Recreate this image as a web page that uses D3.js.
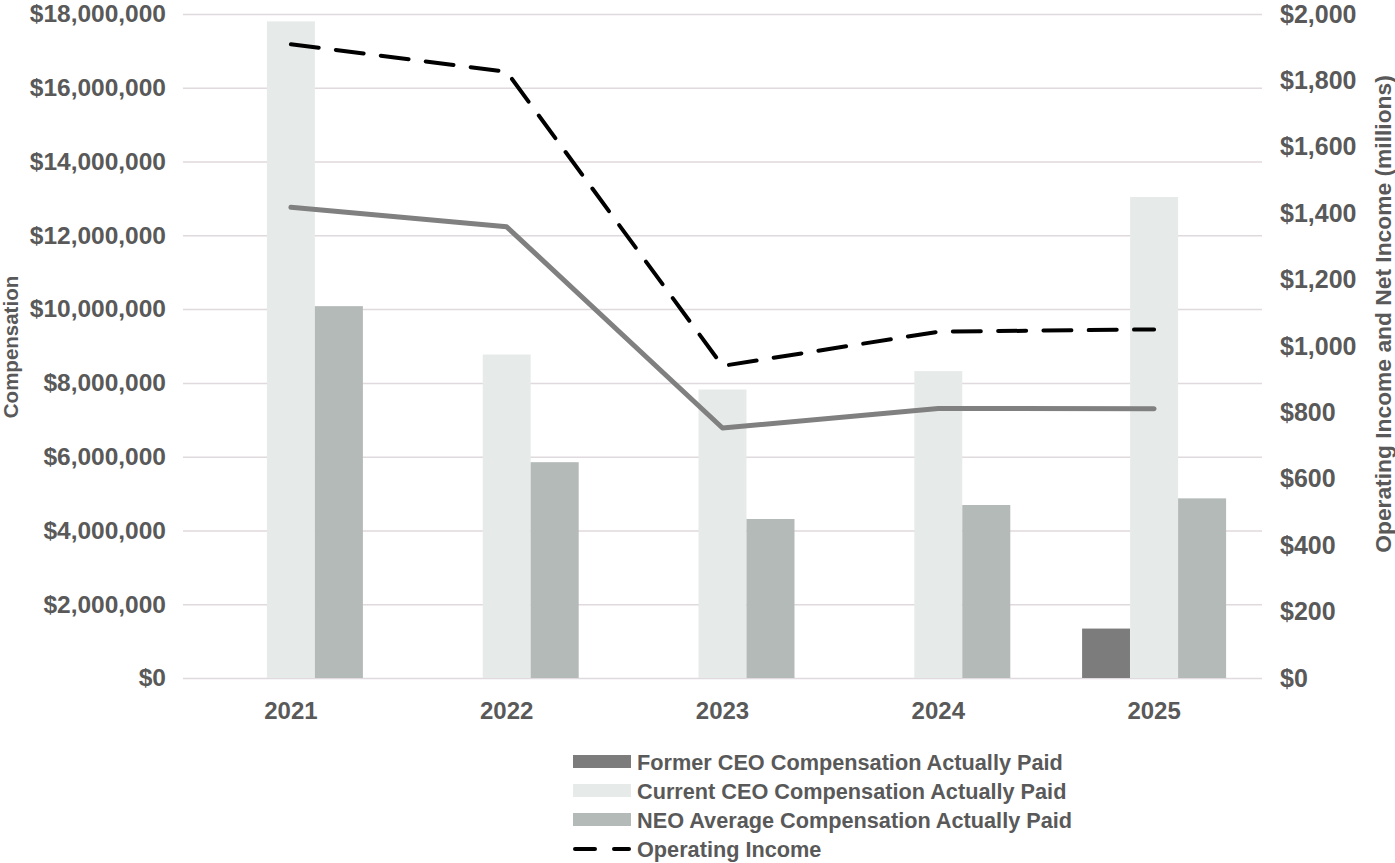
<!DOCTYPE html>
<html>
<head>
<meta charset="utf-8">
<script src="https://cdn.jsdelivr.net/npm/d3@7"></script>
<style>
  body { margin: 0; background: #fff; }
  svg text { font-family: "Liberation Sans", Arial, sans-serif; font-weight: bold; fill: #595959; }
</style>
</head>
<body>
<div id="chart"></div>
<script>
const years = ["2021", "2022", "2023", "2024", "2025"];
const formerCEO = [null, null, null, null, 1340000];
const currentCEO = [17800000, 8770000, 7820000, 8320000, 13040000];
const neoAverage = [10080000, 5850000, 4310000, 4690000, 4870000];
const operatingIncome = [1909, 1826, 940, 1043, 1050];
const netIncome = [1418, 1359, 753, 812, 811];
const leftTicks = [0, 2000000, 4000000, 6000000, 8000000, 10000000, 12000000, 14000000, 16000000, 18000000];
const rightTicks = [0, 200, 400, 600, 800, 1000, 1200, 1400, 1600, 1800, 2000];

const barSeries = [
    { name: "Former CEO Compensation Actually Paid", values: formerCEO, color: "#7c7c7c" },
    { name: "Current CEO Compensation Actually Paid", values: currentCEO, color: "#e6ebe9" },
    { name: "NEO Average Compensation Actually Paid", values: neoAverage, color: "#b4bab8" }
];

const W = 1395, H = 863;
const plotLeft = 183, plotRight = 1262, plotTop = 14, plotBottom = 678;

const svg = d3.select("#chart").append("svg")
    .attr("width", W)
    .attr("height", H);

const x0 = d3.scaleBand().domain(years).range([plotLeft, plotRight]);
const x1 = d3.scaleBand().domain(barSeries.map(d => d.name))
    .range([0, x0.bandwidth()])
    .paddingOuter(0.748);

const yLeft = d3.scaleLinear().domain([0, 18000000]).range([plotBottom, plotTop]);
const yRight = d3.scaleLinear().domain([0, 2000]).range([plotBottom, plotTop]);

// left axis + gridlines
svg.append("g")
    .attr("transform", `translate(${plotLeft},0)`)
    .call(d3.axisLeft(yLeft)
        .tickValues(leftTicks)
        .tickSize(-(plotRight - plotLeft))
        .tickPadding(17)
        .tickFormat(d => "$" + d3.format(",")(d)))
    .call(g => g.select(".domain").remove())
    .call(g => g.selectAll(".tick line").attr("stroke", "#e0d9dd").attr("stroke-width", 1.5))
    .call(g => g.selectAll(".tick text").style("font-size", "24.5px"));

// right axis
svg.append("g")
    .attr("transform", `translate(${plotRight},0)`)
    .call(d3.axisRight(yRight)
        .tickValues(rightTicks)
        .tickSize(0)
        .tickPadding(18)
        .tickFormat(d => "$" + d3.format(",")(d)))
    .call(g => g.select(".domain").remove())
    .call(g => g.selectAll(".tick text").style("font-size", "25px"));

// x axis
svg.append("g")
    .attr("transform", `translate(0,${plotBottom})`)
    .call(d3.axisBottom(x0).tickSize(0).tickPadding(24))
    .call(g => g.select(".domain").remove())
    .call(g => g.selectAll(".tick text").style("font-size", "24px"));

// bars
const groups = svg.append("g").selectAll("g")
    .data(years)
    .enter().append("g")
    .attr("transform", d => `translate(${x0(d)},0)`);

groups.selectAll("rect")
    .data((yr, i) => barSeries.map(s => ({ name: s.name, color: s.color, value: s.values[i] })).filter(d => d.value != null))
    .enter().append("rect")
    .attr("x", d => x1(d.name))
    .attr("width", x1.bandwidth())
    .attr("y", d => yLeft(d.value))
    .attr("height", d => yLeft(0) - yLeft(d.value))
    .attr("fill", d => d.color);

// lines
const lineGen = d3.line()
    .x((d, i) => x0(years[i]) + x0.bandwidth() / 2)
    .y(d => yRight(d));

svg.append("path")
    .datum(netIncome)
    .attr("d", lineGen)
    .attr("fill", "none")
    .attr("stroke", "#808080")
    .attr("stroke-width", 5)
    .attr("stroke-linejoin", "round")
    .attr("stroke-linecap", "round");

svg.append("path")
    .datum(operatingIncome)
    .attr("d", lineGen)
    .attr("fill", "none")
    .attr("stroke", "#000")
    .attr("stroke-width", 4)
    .attr("stroke-dasharray", "28,17.3")
    .attr("stroke-linejoin", "round")
    .attr("stroke-linecap", "round");

// axis titles
svg.append("text")
    .attr("transform", "translate(11,347) rotate(-90)")
    .attr("text-anchor", "middle")
    .attr("dy", "0.35em")
    .style("font-size", "20.5px")
    .text("Compensation");

svg.append("text")
    .attr("transform", "translate(1383,314) rotate(-90)")
    .attr("text-anchor", "middle")
    .attr("dy", "0.35em")
    .style("font-size", "22.8px")
    .text("Operating Income and Net Income (millions)");

// legend
const legendItems = barSeries.map(s => ({ name: s.name, color: s.color, type: "bar" }))
    .concat([{ name: "Operating Income", color: "#000", type: "dash" }]);

const legend = svg.append("g").selectAll("g")
    .data(legendItems)
    .enter().append("g")
    .attr("transform", (d, i) => `translate(573,${762 + i * 29})`);

legend.filter(d => d.type === "bar").append("rect")
    .attr("x", 0)
    .attr("y", -7)
    .attr("width", 58)
    .attr("height", 13)
    .attr("fill", d => d.color);

legend.filter(d => d.type === "dash").append("line")
    .attr("x1", 2)
    .attr("x2", 56)
    .attr("y1", 0)
    .attr("y2", 0)
    .attr("stroke", "#000")
    .attr("stroke-width", 4)
    .attr("stroke-linecap", "round")
    .attr("stroke-dasharray", "20,19");

legend.append("text")
    .attr("x", 64)
    .attr("y", 0)
    .attr("dy", "0.36em")
    .style("font-size", "21.7px")
    .text(d => d.name);
</script>
</body>
</html>
